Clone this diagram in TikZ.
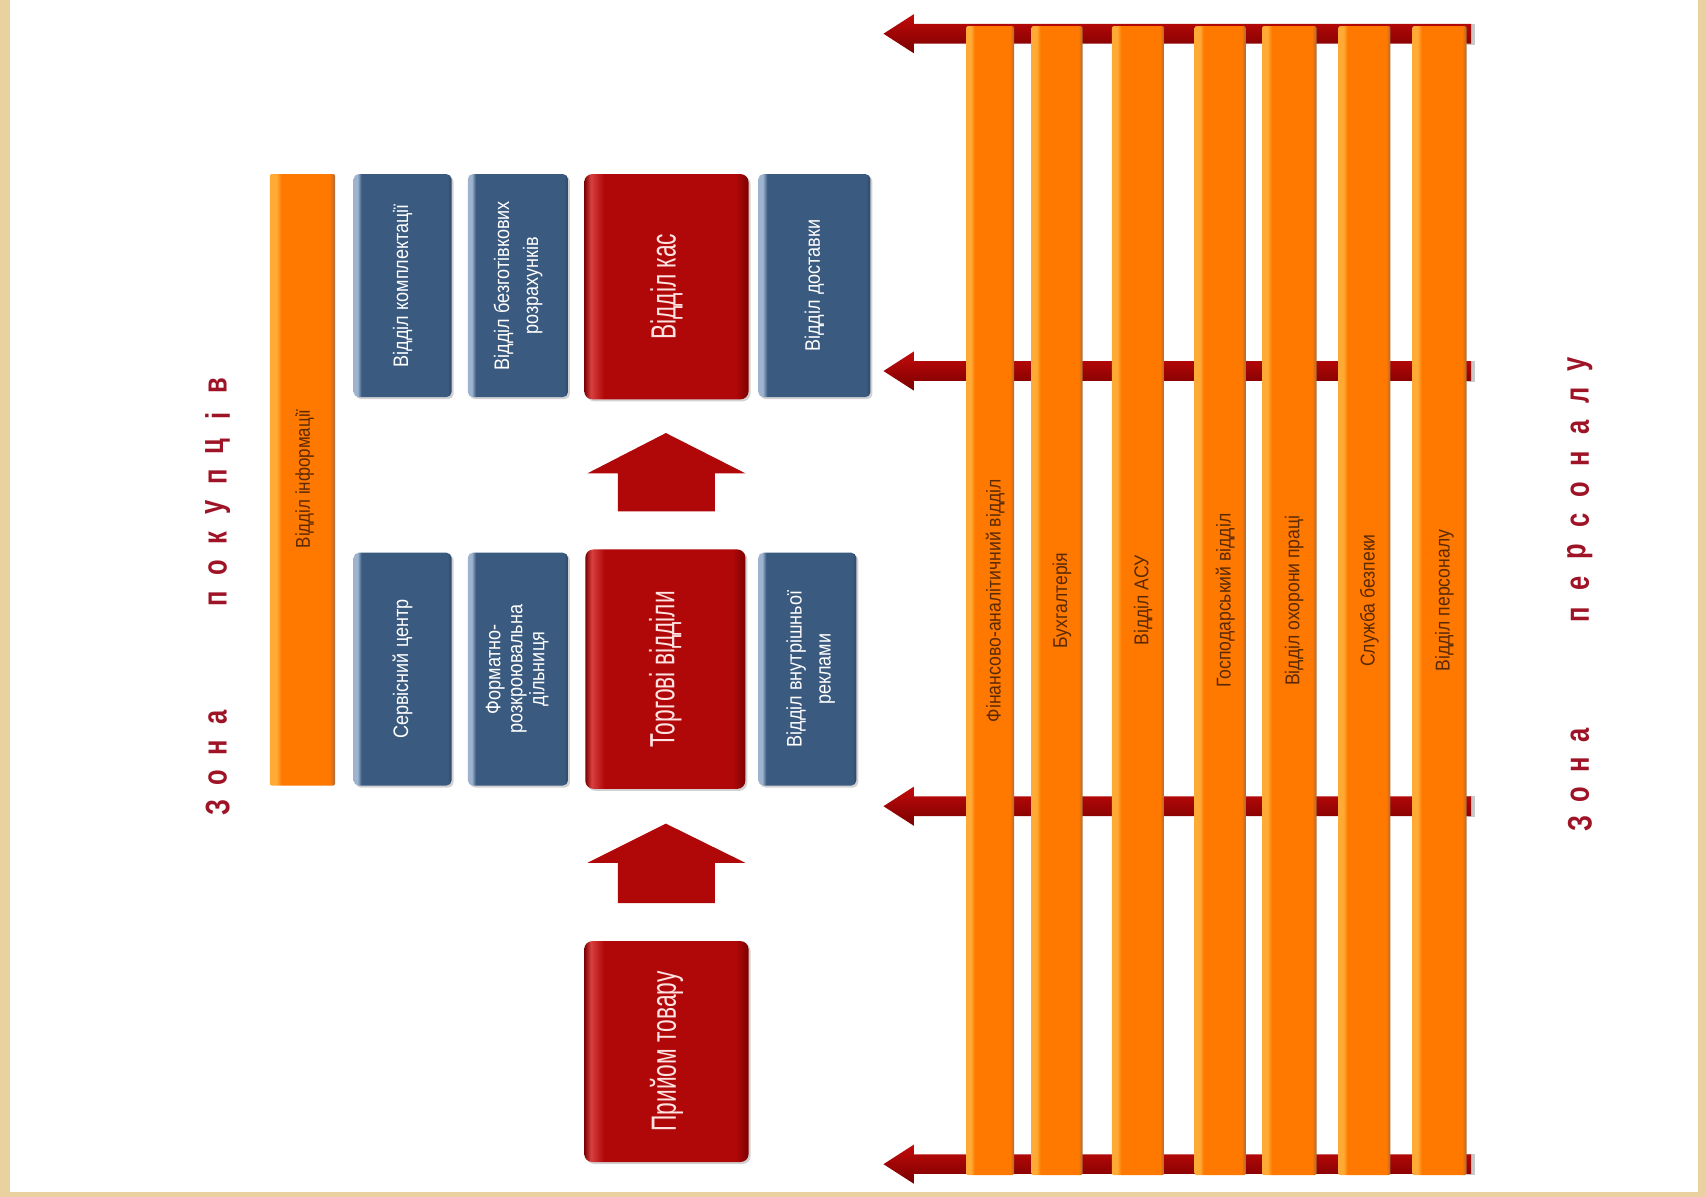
\documentclass[tikz,border=0pt]{standalone}
\usepackage{fontspec}
\setmainfont{Liberation Sans}
\usepackage{graphicx}
\usetikzlibrary{shadows}
\definecolor{beigeedge}{HTML}{E9D1A0}
\definecolor{boxblue}{HTML}{3B5A80}
\definecolor{boxbluelight}{HTML}{9DB3CF}
\definecolor{boxbluedark}{HTML}{2E4766}
\definecolor{boxred}{HTML}{B00808}
\definecolor{boxredlight}{HTML}{D84040}
\definecolor{boxreddark}{HTML}{7C0000}
\definecolor{barorange}{HTML}{FF7800}
\definecolor{barlight}{HTML}{FFAA35}
\definecolor{barshadow}{HTML}{A86A40}
\definecolor{arrtop}{HTML}{C40A0A}
\definecolor{arrbottom}{HTML}{780000}
\definecolor{zonered}{HTML}{9E1426}
\definecolor{bartext}{HTML}{5A2A05}
\definecolor{redtext}{HTML}{FFE2E2}
\pgfdeclarehorizontalshading{orangebar}{100bp}{color(0bp)=(barlight); color(25bp)=(barlight); color(30bp)=(barlight); color(34bp)=(barorange); color(71bp)=(barorange); color(75bp)=(barshadow); color(100bp)=(barshadow)}
\pgfdeclarehorizontalshading{blueshade}{100bp}{color(0bp)=(boxbluelight); color(25bp)=(boxbluelight); color(27bp)=(boxbluelight); color(29bp)=(boxblue); color(73bp)=(boxblue); color(75bp)=(boxbluedark); color(100bp)=(boxbluedark)}
\pgfdeclarehorizontalshading{redshade}{100bp}{color(0bp)=(boxreddark); color(25bp)=(boxreddark); color(27bp)=(boxredlight); color(31bp)=(boxred); color(71bp)=(boxred); color(75bp)=(boxreddark); color(100bp)=(boxreddark)}
\newcommand\cnd[2]{\scalebox{#1}[1]{#2}}
\begin{document}
\begin{tikzpicture}[x=1.088pt,y=-1.088pt,
  boxbase/.style={rectangle, rounded corners=5pt, inner sep=0pt, draw=none,
    drop shadow={shadow xshift=2pt, shadow yshift=-2pt, opacity=0.35}},
  bluebox/.style={boxbase, shade, shading=blueshade},
  redbox/.style={boxbase, shade, shading=redshade, rounded corners=8pt},
  orangebox/.style={rectangle, rounded corners=2pt, inner sep=0pt, draw=none, shade, shading=orangebar},
  bluetext/.style={rotate=90, text=white, align=center, inner sep=0pt, font=\fontsize{21}{29}\selectfont},
  redtxt/.style={rotate=90, text=redtext, align=center, inner sep=0pt, font=\fontsize{35}{40}\selectfont},
  bartxt/.style={rotate=90, text=bartext, align=center, inner sep=0pt, font=\fontsize{20}{24}\selectfont},
  zonetxt/.style={rotate=90, text=zonered, inner sep=0pt, font=\fontsize{34}{34}\selectfont\bfseries},
  hband/.style={top color=arrtop, bottom color=arrbottom},
  uparrow/.style={fill=boxred}
]
\useasboundingbox (0,0) rectangle (1568,1100);
\fill[white] (0,0) rectangle (1568,1100);
\fill[beigeedge] (0,0) rectangle (9,1100);
\fill[beigeedge] (1561,0) rectangle (1568,1100);
\fill[beigeedge] (0,1096) rectangle (1568,1100);

% horizontal red arrows (staff zone)
\foreach \yy/\nm in {31/ha, 341/hb, 741/hc, 1070/hd}{
  \coordinate (\nm) at (812,\yy);
  \fill[gray!70, opacity=0.6] (1348,\yy-9) rectangle (1356,\yy+10);
  \shade[hband] (\nm) -- (840,\yy-18) -- (840,\yy-9) -- (1352,\yy-9) -- (1352,\yy+9) -- (840,\yy+9) -- (840,\yy+18) -- cycle;
}

% orange vertical bars
\foreach \cx/\w/\t/\nm in {910/47.9/{Фінансово-аналітичний відділ}/o1,
  971.5/51.1/{Бухгалтерія}/o2,
  1046/52.2/{Відділ АСУ}/o3,
  1121.5/51.1/{Господарський відділ}/o4,
  1185/54.4/{Відділ охорони праці}/o5,
  1254/52.2/{Служба безпеки}/o6,
  1323/54.4/{Відділ персоналу}/o7}{
  \node[orangebox, minimum width=\w pt, minimum height=1149pt] (\nm) at (\cx,552) {};
  \node[bartxt] (\nm t) at ([xshift=5pt]\nm.center) {\cnd{0.88}{\t}};
}

% information bar
\node[orangebox, minimum width=65.3pt, minimum height=611.5pt] (info) at (278,441) {};
\node[bartxt] (infot) at (280,440) {\cnd{0.85}{Відділ інформації}};

% top row
\node[bluebox, minimum width=97.9pt, minimum height=223pt] (komp) at (370,262.5) {};
\node[bluetext] (kompt) at (komp.center) {\cnd{0.86}{Відділ комплектації}};
\node[bluebox, minimum width=100.1pt, minimum height=223pt] (bezg) at (476,262.5) {};
\node[bluetext] (bezgt) at (bezg.center) {\cnd{0.86}{\begin{tabular}{@{}c@{}}Відділ безготівкових\\розрахунків\end{tabular}}};
\node[redbox, minimum width=164.3pt, minimum height=225.2pt] (kas) at (612.5,263.5) {};
\node[redtxt] (kast) at (kas.center) {\cnd{0.65}{Відділ кас}};
\node[bluebox, minimum width=112.1pt, minimum height=223pt] (dost) at (748.5,262.5) {};
\node[bluetext] (dostt) at (dost.center) {\cnd{0.86}{Відділ доставки}};

% middle row
\node[bluebox, minimum width=97.9pt, minimum height=232.8pt] (serv) at (370,615) {};
\node[bluetext] (servt) at (serv.center) {\cnd{0.86}{Сервісний центр}};
\node[bluebox, minimum width=100.1pt, minimum height=232.8pt] (form) at (476,615) {};
\node[bluetext, font=\fontsize{21}{22}\selectfont] (formt) at (form.center) {\cnd{0.86}{\begin{tabular}{@{}c@{}}Форматно-\\розкроювальна\\дільниця\end{tabular}}};
\node[redbox, minimum width=160pt, minimum height=239.4pt] (torg) at (611.5,615) {};
\node[redtxt] (torgt) at (torg.center) {\cnd{0.65}{Торгові відділи}};
\node[bluebox, minimum width=97.9pt, minimum height=232.8pt] (rekl) at (742,615) {};
\node[bluetext] (reklt) at ([xshift=3pt]rekl.center) {\cnd{0.86}{\begin{tabular}{@{}c@{}}Відділ внутрішньої\\реклами\end{tabular}}};

% bottom
\node[redbox, minimum width=164.3pt, minimum height=220.9pt] (prij) at (612.5,966.5) {};
\node[redtxt] (prijt) at (prij.center) {\cnd{0.65}{Прийом товару}};

% up block arrows
\fill[uparrow] (612,757) -- (685,793) -- (657,793) -- (657,830) -- (568,830) -- (568,793) -- (540,793) -- cycle;
\fill[uparrow] (612,398) -- (685,435) -- (657,435) -- (657,470) -- (568,470) -- (568,435) -- (540,435) -- cycle;

% zone titles
\foreach \ch [count=\i] in {З,о,н,а}{
  \node[zonetxt] (zpa\i) at (200,742-27.5*\i+27.5) {\cnd{0.75}{\ch}};
}
\foreach \ch [count=\i] in {п,о,к,у,п,ц,і,в}{
  \node[zonetxt] (zpb\i) at (200,550-27.9*\i+27.9) {\cnd{0.75}{\ch}};
}
\foreach \ch [count=\i] in {З,о,н,а}{
  \node[zonetxt] (zsa\i) at (1452,757-27*\i+27) {\cnd{0.75}{\ch}};
}
\foreach \ch [count=\i] in {п,е,р,с,о,н,а,л,у}{
  \node[zonetxt] (zsb\i) at (1452,565-28.75*\i+28.75) {\cnd{0.75}{\ch}};
}
\end{tikzpicture}
\end{document}
